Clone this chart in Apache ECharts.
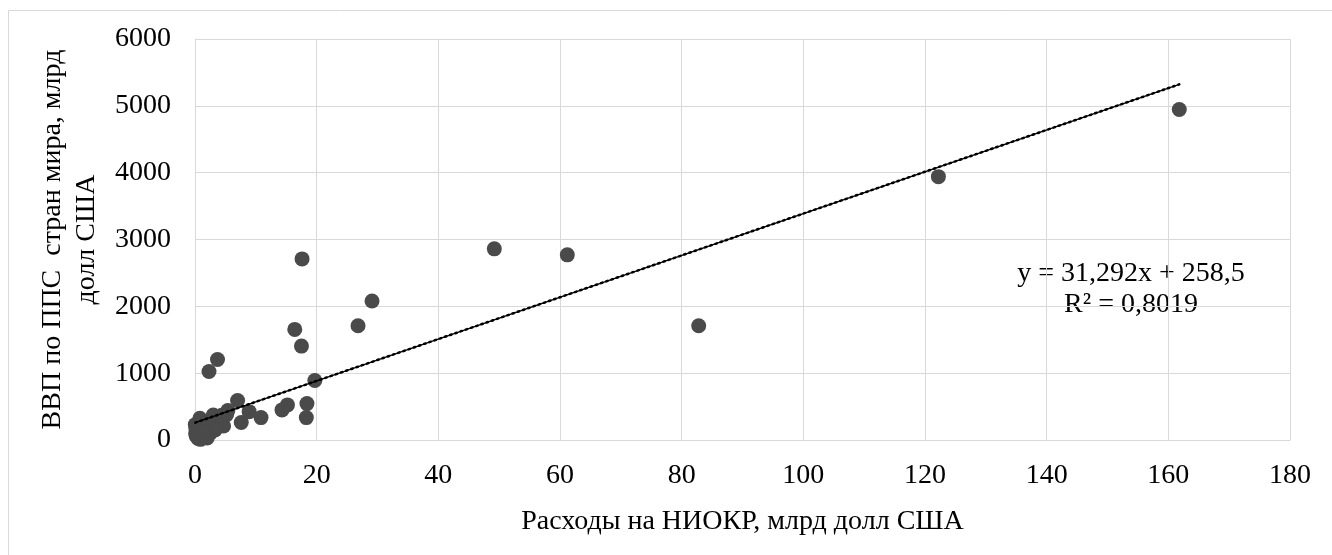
<!DOCTYPE html>
<html>
<head>
<meta charset="utf-8">
<script src="https://cdn.jsdelivr.net/npm/echarts@6/dist/echarts.min.js"></script>
<style>
  html, body { margin: 0; padding: 0; background: #fff; }
  #chart { width: 1332px; height: 555px; }
</style>
</head>
<body>
<div id="chart"></div>
<script>
// R&D spending (bn USD) vs GDP PPP (bn USD)
const rdSpend = [
  161.8, 122.2, 82.8, 61.2, 49.2, 29.1, 26.8, 17.6, 16.4, 17.5,
  19.7, 18.4, 18.3, 15.2, 14.3, 10.85, 8.9, 7.0, 7.6, 3.7, 2.3,
  5.4, 4.7, 3.0, 5.2, 0.8, 0.3, 0.1, 0.5, 1.9, 3.0, 4.1, 1.4, 2.5,
  0.2, 0.6, 1.1, 2.2, 3.5, 4.4, 0.4, 0.9, 1.6, 2.8, 0.05, 0.15, 3.3, 2.0, 1.3
]
const gdpPpp = [
  4945, 3940, 1710, 2770, 2860, 2080, 1710, 2710, 1655, 1405,
  890, 545, 335, 525, 450, 335, 424, 590, 262, 1205, 1025,
  440, 210, 374, 380, 325, 200, 100, 25, 150, 200, 300, 75, 100,
  60, 140, 250, 280, 330, 370, 40, 10, 190, 240, 230, 170, 150, 30, 110
]
const trendSlope = 31.292
const trendIntercept = 258.5
const trendLabel = 'y = 31,292x + 258,5\nR² = 0,8019'

const points = rdSpend.map((x, i) => [x, gdpPpp[i]])
const xFrom = Math.min(...rdSpend)
const xTo = Math.max(...rdSpend)
const trend = [
  [xFrom, trendSlope * xFrom + trendIntercept],
  [xTo, trendSlope * xTo + trendIntercept]
]

const font = 'Liberation Serif'
const chart = echarts.init(document.getElementById('chart'))

chart.setOption({
  backgroundColor: '#ffffff',
  animation: false,
  textStyle: { fontFamily: font, color: '#000' },
  graphic: [
    {
      type: 'rect',
      shape: { x: 8.5, y: 10.5, width: 1400, height: 600 },
      style: { fill: 'none', stroke: '#d9d9d9', lineWidth: 1 },
      silent: true
    },
    {
      type: 'text',
      x: 1131,
      y: 258,
      style: {
        text: trendLabel,
        font: '28px ' + font,
        fill: '#000',
        align: 'center',
        verticalAlign: 'top',
        lineHeight: 31
      },
      silent: true
    }
  ],
  grid: {
    left: 195,
    right: 42,
    top: 39,
    bottom: 115,
    containLabel: false
  },
  xAxis: {
    type: 'value',
    min: 0,
    max: 180,
    interval: 20,
    name: 'Расходы на НИОКР, млрд долл США',
    nameLocation: 'middle',
    nameGap: 68,
    nameTextStyle: { fontFamily: font, fontSize: 28, color: '#000' },
    axisLine: { show: true, lineStyle: { color: '#d9d9d9', width: 1 } },
    axisTick: { show: false },
    axisLabel: { fontFamily: font, fontSize: 28, color: '#000', margin: 22 },
    splitLine: { show: true, lineStyle: { color: '#d9d9d9', width: 1 } }
  },
  yAxis: {
    type: 'value',
    min: 0,
    max: 6000,
    interval: 1000,
    name: 'ВВП по ППС  стран мира, млрд\nдолл США',
    nameLocation: 'middle',
    nameGap: 78,
    nameTextStyle: { fontFamily: font, fontSize: 28, color: '#000', lineHeight: 34 },
    axisLine: { show: true, lineStyle: { color: '#d9d9d9', width: 1 } },
    axisTick: { show: false },
    axisLabel: {
      fontFamily: font, fontSize: 28, color: '#000', margin: 24,
      formatter: v => String(v)
    },
    splitLine: { show: true, lineStyle: { color: '#d9d9d9', width: 1 } }
  },
  series: [
    {
      name: 'data',
      type: 'scatter',
      data: points,
      symbol: 'circle',
      symbolSize: 15,
      itemStyle: { color: '#4a4a4a', opacity: 1 },
      z: 2
    },
    {
      name: 'trend',
      type: 'line',
      data: trend,
      showSymbol: false,
      lineStyle: { color: '#000', width: 1.5 },
      z: 3
    },
    {
      name: 'trendDots',
      type: 'line',
      data: trend,
      showSymbol: false,
      lineStyle: { color: '#000', width: 2.5, type: [1.5, 4], cap: 'round' },
      z: 3
    }
  ]
})
</script>
</body>
</html>
